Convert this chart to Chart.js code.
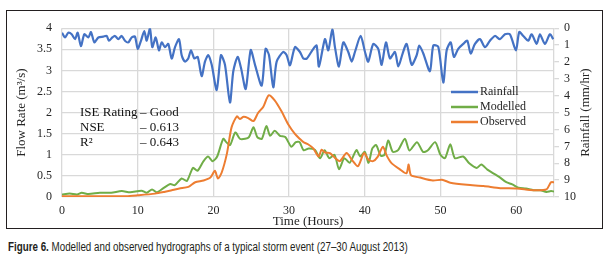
<!DOCTYPE html>
<html>
<head>
<meta charset="utf-8">
<script src="https://cdn.jsdelivr.net/npm/chart.js@4.4.1/dist/chart.umd.min.js"></script>
<style>
  html, body { margin: 0; padding: 0; background: #fff; }
  body { width: 608px; height: 261px; position: relative; overflow: hidden; }
  #frame { position: absolute; left: 6px; top: 10px; width: 595px; height: 217px; border: 1px solid #231f20; }
  #frame canvas { display: block; }
  #caption { position: absolute; left: 8px; top: 240px; margin: 0; font: 12px "Liberation Sans", Arial, sans-serif; color: #231f20; white-space: nowrap; transform-origin: 0 50%; }
</style>
</head>
<body>
<div id="frame"><canvas id="hydrograph" width="595" height="217"></canvas></div>
<p id="caption"><b>Figure 6.</b> Modelled and observed hydrographs of a typical storm event (27–30 August 2013)</p>
<script>
// rainfall (mm/hr), plotted on the reversed right axis
const rainHours = [0, 0.4, 0.83, 1.28, 1.72, 2.07, 2.5, 2.95, 3.48, 3.83,
  4.27, 4.8, 5.46, 5.9, 6.2, 6.65, 7.0, 7.44, 7.88, 8.32,
  8.76, 9.2, 9.64, 10.0, 10.44, 10.87, 11.19, 11.62, 11.93, 12.38,
  12.81, 13.17, 13.6, 14.04, 14.49, 14.93, 15.46, 15.81, 16.25, 16.68,
  17.04, 17.48, 17.93, 18.45, 18.89, 19.33, 19.78, 20.44, 21.0, 21.53,
  22.19, 22.63, 23.2, 23.65, 24.27, 24.93, 25.5, 26.38, 26.9, 27.35,
  27.91, 28.36, 29.23, 29.68, 30.12, 30.78, 31.44, 31.88, 32.33, 33.2,
  33.64, 33.95, 34.74, 35.18, 35.71, 36.06, 36.59, 37.16, 37.82, 38.27,
  38.7, 39.46, 40.03, 40.46, 41.12, 41.78, 42.23, 42.8, 43.33, 43.99,
  44.43, 45.0, 45.53, 46.2, 46.86, 47.2, 47.73, 48.61, 49.05, 49.71,
  50.37, 50.82, 51.35, 51.78, 52.35, 53.01, 53.54, 53.99, 54.56, 55.22,
  55.88, 56.54, 57.2, 57.86, 58.52, 59.18, 59.97, 60.41, 60.94, 61.6,
  62.05, 62.71, 63.14, 63.8, 64.46, 64.9];
const rainfall = [0.27, 0.55, 0.27, 0.36, 0.65, 0.27, 1.07, 0.36, 0.55, 0.23,
  0.84, 0.55, 0.5, 0.46, 0.74, 0.55, 0.46, 0.65, 0.46, 0.74,
  0.84, 0.55, 0.5, 1.22, 0.74, 0.17, 0.74, 0.02, 1.12, 0.55,
  1.31, 0.84, 1.12, 0.93, 1.8, 1.12, 0.65, 1.6, 1.98, 1.79,
  1.31, 1.79, 1.7, 2.84, 1.98, 1.6, 2.17, 3.66, 1.6, 2.17,
  4.4, 2.55, 1.7, 2.36, 3.6, 1.3, 2.17, 3.4, 1.22, 1.6,
  3.5, 1.98, 1.4, 1.6, 2.2, 1.12, 1.41, 1.79, 1.8, 1.22,
  1.03, 2.27, 0.65, 1.31, 0.08, 1.12, 2.27, 0.84, 1.41, 1.98,
  1.41, 0.46, 1.41, 1.98, 0.93, 1.22, 2.17, 0.84, 1.79, 1.41,
  2.27, 1.5, 0.93, 2.17, 1.6, 1.03, 1.5, 2.55, 1.03, 1.1,
  3.22, 1.31, 0.84, 1.7, 1.22, 0.93, 0.74, 1.5, 0.93, 0.65,
  1.12, 0.74, 0.46, 0.65, 0.36, 0.36, 1.31, 0.23, 0.46, 0.74,
  0.36, 0.93, 0.36, 0.93, 0.36, 0.65];

// modelled flow (m3/s)
const modelHours = [0, 1.0, 2.0, 2.6, 3.5, 5.0, 6.5, 7.9, 9.0, 10.5,
  11.2, 11.9, 12.5, 13.4, 14.3, 14.9, 15.8, 16.5, 17.3, 17.9,
  18.7, 19.3, 19.9, 20.5, 21.3, 21.7, 22.2, 22.9, 23.5, 24.2,
  24.7, 25.3, 25.8, 26.4, 27.0, 27.5, 28.1, 28.8, 29.5, 30.3,
  30.9, 31.4, 31.9, 32.6, 33.4, 34.1, 34.7, 35.3, 36.0, 36.6,
  37.3, 38.0, 38.9, 39.4, 40.0, 40.5, 41.0, 41.5, 42.1, 42.6,
  43.1, 43.7, 44.4, 45.3, 45.9, 46.9, 47.7, 48.3, 49.3, 50.0,
  50.6, 51.3, 51.9, 53.0, 53.8, 54.8, 55.4, 56.2, 57.0, 57.8,
  58.7, 59.5, 60.3, 61.3, 62.3, 63.2, 64.0, 64.6, 65];
const modelled = [0.06, 0.08, 0.06, 0.1, 0.07, 0.1, 0.1, 0.14, 0.11, 0.15,
  0.1, 0.18, 0.11, 0.21, 0.31, 0.28, 0.44, 0.38, 0.69, 0.62,
  0.85, 0.96, 0.85, 0.96, 1.38, 1.3, 1.23, 1.53, 1.38, 1.38,
  1.42, 1.65, 1.42, 1.38, 1.68, 1.45, 1.57, 1.45, 1.42, 1.19,
  1.3, 1.3, 1.11, 1.15, 1.12, 0.92, 1.11, 0.92, 1.0, 0.66,
  0.92, 0.81, 1.11, 0.96, 1.07, 0.81, 1.15, 1.23, 0.98, 1.0,
  1.34, 1.07, 1.11, 1.38, 1.1, 1.3, 1.07, 1.1, 1.3, 1.0,
  0.92, 1.25, 0.92, 0.96, 0.8, 0.69, 0.77, 0.65, 0.56, 0.47,
  0.35, 0.3, 0.22, 0.2, 0.16, 0.16, 0.12, 0.14, 0.13];

// observed flow (m3/s)
const obsHours = [0, 8.5, 10, 12.3, 13.5, 14.5, 15.5, 16.7, 17.6, 18.7,
  19.6, 20.2, 20.6, 21.1, 21.8, 22.4, 23.1, 23.5, 24.0, 24.6,
  25.3, 25.9, 26.6, 27.3, 28.1, 29.0, 29.9, 30.8, 31.4, 31.9,
  32.5, 33.2, 33.9, 34.3, 34.8, 35.4, 36.1, 36.7, 37.6, 38.3,
  39.1, 39.9, 40.5, 41.1, 41.7, 42.4, 42.9, 43.5, 44.6, 45.5,
  45.8, 46.1, 47.3, 49.0, 50.2, 51.3, 53.5, 55.7, 57.9, 60.1,
  62.3, 64.0, 64.6, 65];
const observed = [0.02, 0.02, 0.04, 0.08, 0.12, 0.16, 0.2, 0.24, 0.35, 0.39,
  0.46, 0.62, 0.44, 0.58, 1.04, 1.65, 1.91, 1.85, 1.9, 1.87,
  1.8, 1.99, 2.14, 2.41, 2.29, 2.03, 1.72, 1.49, 1.38, 1.3,
  1.25, 1.15, 0.96, 1.12, 1.05, 1.04, 0.92, 0.85, 1.04, 0.88,
  0.73, 1.04, 0.88, 0.85, 0.95, 1.19, 0.98, 0.81, 0.66, 0.56,
  0.77, 0.52, 0.46, 0.39, 0.41, 0.34, 0.29, 0.26, 0.21, 0.2,
  0.16, 0.18, 0.35, 0.35];

const statLabels = ['ISE Rating', 'NSE', 'R\u00b2'];
const statValues = ['\u2013 Good', '\u2013 0.613', '\u2013 0.643'];

const serif = '"Liberation Serif", "Times New Roman", serif';
const textColor = '#262626';
const gridColor = '#d9d9d9';

const pts = (xs, ys) => xs.map((x, i) => ({ x: x, y: ys[i] }));

// legend, statistics box and the right axis title
const extras = {
  id: 'extras',
  afterDraw(chart) {
    const ctx = chart.ctx;
    ctx.save();
    ctx.textBaseline = 'middle';
    ctx.textAlign = 'left';
    ctx.font = '12px ' + serif;
    chart.data.datasets.forEach((ds, i) => {
      const y = 81 + i * 15;
      ctx.strokeStyle = ds.borderColor;
      ctx.lineWidth = 2.5;
      ctx.beginPath();
      ctx.moveTo(444, y);
      ctx.lineTo(471, y);
      ctx.stroke();
      ctx.fillStyle = textColor;
      ctx.fillText(ds.label, 473, y);
    });
    ctx.font = '13px ' + serif;
    ctx.fillStyle = '#111';
    statLabels.forEach((t, i) => {
      const y = 102 + i * 15;
      ctx.fillText(t, 73, y);
      ctx.fillText(statValues[i], 133, y);
    });
    const a = chart.chartArea;
    ctx.translate(579, (a.top + a.bottom) / 2);
    ctx.rotate(-Math.PI / 2);
    ctx.textAlign = 'center';
    ctx.fillStyle = textColor;
    ctx.fillText('Rainfall (mm/hr)', 0, 0);
    ctx.restore();
  }
};

const hydroChart = new Chart(document.getElementById('hydrograph'), {
  type: 'line',
  data: {
    datasets: [
      { label: 'Rainfall', data: pts(rainHours, rainfall), yAxisID: 'y1',
        borderColor: '#4472c4', borderWidth: 2.2, order: 2 },
      { label: 'Modelled', data: pts(modelHours, modelled), yAxisID: 'y',
        borderColor: '#70ad47', borderWidth: 2, order: 1 },
      { label: 'Observed', data: pts(obsHours, observed), yAxisID: 'y',
        borderColor: '#ed7d31', borderWidth: 2, order: 0 }
    ]
  },
  options: {
    responsive: false,
    animation: false,
    devicePixelRatio: 1,
    elements: { point: { radius: 0 }, line: { tension: 0.25, fill: false } },
    layout: { padding: { top: 11, left: 0, right: 0, bottom: 0 } },
    scales: {
      x: {
        type: 'linear', min: 0, max: 65,
        afterFit: s => { s.height = 31; },
        ticks: { stepSize: 10, includeBounds: false, padding: 7, color: textColor,
                 font: { family: serif, size: 12 } },
        grid: { color: gridColor, lineWidth: 1.3, drawTicks: false },
        border: { display: false },
        title: { display: true, text: 'Time (Hours)', color: textColor, padding: 0,
                 font: { family: serif, size: 13, lineHeight: 1 } }
      },
      y: {
        position: 'left', min: 0, max: 4,
        afterFit: s => { s.width = 55; },
        ticks: { stepSize: 0.5, padding: 10, color: textColor, font: { family: serif, size: 12 },
                 callback: v => String(v) },
        grid: { color: gridColor, lineWidth: 1.3, drawTicks: false },
        border: { display: false },
        title: { display: true, text: 'Flow Rate (m\u00b3/s)', color: textColor,
                 padding: { top: 7, bottom: 0 }, font: { family: serif, size: 13, lineHeight: 1.2 } }
      },
      y1: {
        position: 'right', reverse: true, min: 0, max: 10,
        afterFit: s => { s.width = 48; },
        ticks: { stepSize: 1, autoSkip: false, padding: 5, color: textColor,
                 font: { family: serif, size: 12 } },
        grid: { drawOnChartArea: false, color: gridColor, tickLength: 5, lineWidth: 1.3 },
        border: { display: true, color: gridColor, width: 1.3 }
      }
    },
    plugins: { legend: { display: false }, tooltip: { enabled: false } }
  },
  plugins: [extras]
});

// the printed caption is set in a narrow face; squeeze to its printed width
const caption = document.getElementById('caption');
caption.style.transform = 'scaleX(' + (400 / caption.offsetWidth) + ')';
</script>
</body>
</html>
